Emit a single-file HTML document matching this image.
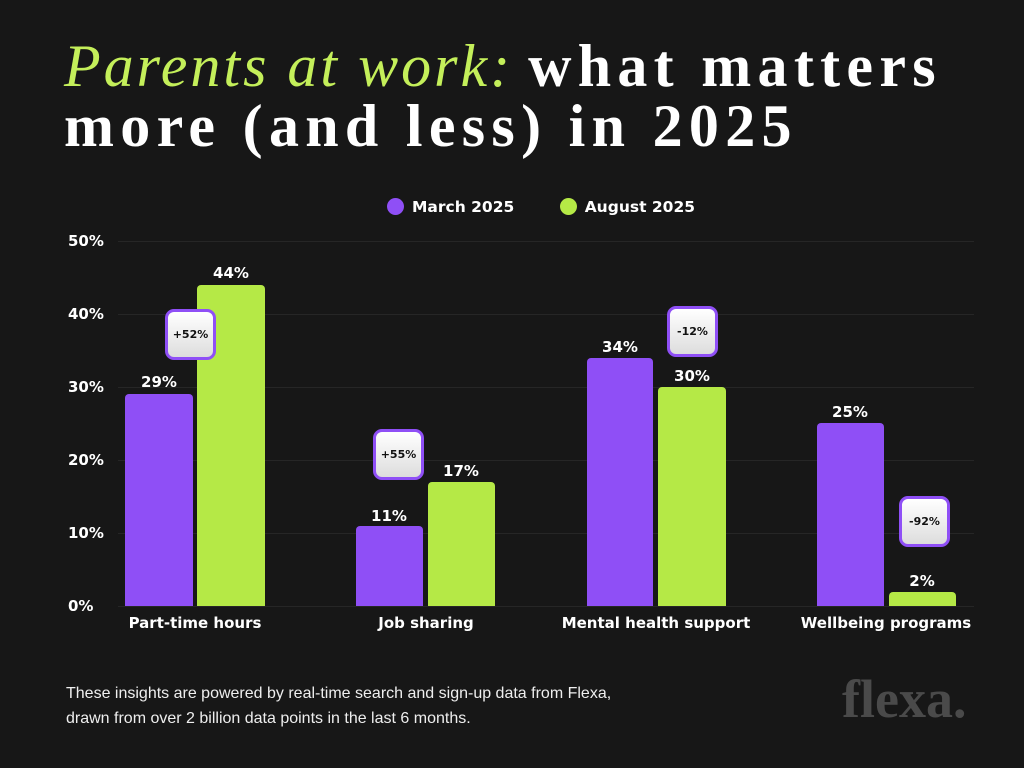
<!DOCTYPE html>
<html><head><style>
body{margin:0;width:1024px;height:768px;background:#171717;overflow:hidden;font-family:"DejaVu Sans","Liberation Sans",sans-serif;position:relative;color:#fff}
.t{position:absolute;left:64px;font-family:"Liberation Serif",serif;font-size:60px;line-height:60px;white-space:nowrap}
.g{color:#c4ef5a;font-style:italic;letter-spacing:3px}
.w{font-weight:bold;letter-spacing:6.3px}
.yl{position:absolute;left:68px;font-size:15px;font-weight:bold;width:50px}
.grid{position:absolute;left:118px;width:856px;height:1px;background:#262626}
.bar{position:absolute;border-radius:4px 4px 0 0}
.p{background:#8f4ff6}.gr{background:#b5e946}
.v{position:absolute;font-size:15px;font-weight:bold;text-align:center;width:70px}
.bd{position:absolute;width:45px;height:45px;border:3px solid #8f4ff6;border-radius:9px;background:linear-gradient(#fff,#ddd);color:#111;font-size:11px;font-weight:bold;display:flex;align-items:center;justify-content:center}
.xl{position:absolute;top:614px;font-size:15px;font-weight:bold;text-align:center;width:200px}
</style></head><body>
<div class="t" style="top:36px"><span class="g">Parents at work:</span> <span class="w">what matters</span></div>
<div class="t w" style="top:96px">more (and less) in 2025</div>
<div style="position:absolute;top:198px;left:387px;font-size:15.5px;font-weight:bold;white-space:nowrap">
<span style="display:inline-block;width:17px;height:17px;border-radius:50%;background:#8f4ff6;vertical-align:-3px;margin-right:8px"></span>March 2025
<span style="display:inline-block;width:17px;height:17px;border-radius:50%;background:#b5e946;vertical-align:-3px;margin-left:40px;margin-right:8px"></span>August 2025</div>
<div class="grid" style="top:241px"></div><div class="grid" style="top:314px"></div><div class="grid" style="top:387px"></div><div class="grid" style="top:460px"></div><div class="grid" style="top:533px"></div><div class="grid" style="top:606px"></div>
<div class="yl" style="top:232px">50%</div><div class="yl" style="top:305px">40%</div><div class="yl" style="top:378px">30%</div><div class="yl" style="top:451px">20%</div><div class="yl" style="top:524px">10%</div><div class="yl" style="top:597px">0%</div>
<div class="bar p" style="left:125px;width:68px;top:394px;height:212px"></div>
<div class="bar gr" style="left:197px;width:68px;top:285px;height:321px"></div>
<div class="bar p" style="left:356px;width:67px;top:526px;height:80px"></div>
<div class="bar gr" style="left:428px;width:67px;top:482px;height:124px"></div>
<div class="bar p" style="left:587px;width:66px;top:358px;height:248px"></div>
<div class="bar gr" style="left:658px;width:68px;top:387px;height:219px"></div>
<div class="bar p" style="left:817px;width:67px;top:423px;height:183px"></div>
<div class="bar gr" style="left:889px;width:67px;top:592px;height:14px"></div>
<div class="v" style="left:124px;top:373px">29%</div><div class="v" style="left:196px;top:264px">44%</div>
<div class="v" style="left:354px;top:507px">11%</div><div class="v" style="left:426px;top:462px">17%</div>
<div class="v" style="left:585px;top:338px">34%</div><div class="v" style="left:657px;top:367px">30%</div>
<div class="v" style="left:815px;top:403px">25%</div><div class="v" style="left:887px;top:572px">2%</div>
<div class="bd" style="left:165px;top:309px">+52%</div>
<div class="bd" style="left:373px;top:429px">+55%</div>
<div class="bd" style="left:667px;top:306px">-12%</div>
<div class="bd" style="left:899px;top:496px">-92%</div>
<div class="xl" style="left:95px">Part-time hours</div>
<div class="xl" style="left:326px">Job sharing</div>
<div class="xl" style="left:556px">Mental health support</div>
<div class="xl" style="left:786px">Wellbeing programs</div>
<div style="position:absolute;left:66px;top:681px;font-family:'Liberation Sans',sans-serif;font-size:16px;line-height:25px;color:#eee">These insights are powered by real-time search and sign-up data from Flexa,<br>drawn from over 2 billion data points in the last 6 months.</div>
<div style="position:absolute;left:842px;top:668px;font-family:'Liberation Serif',serif;font-weight:bold;font-size:54px;color:#4a4a4a">flexa.</div>
</body></html>
